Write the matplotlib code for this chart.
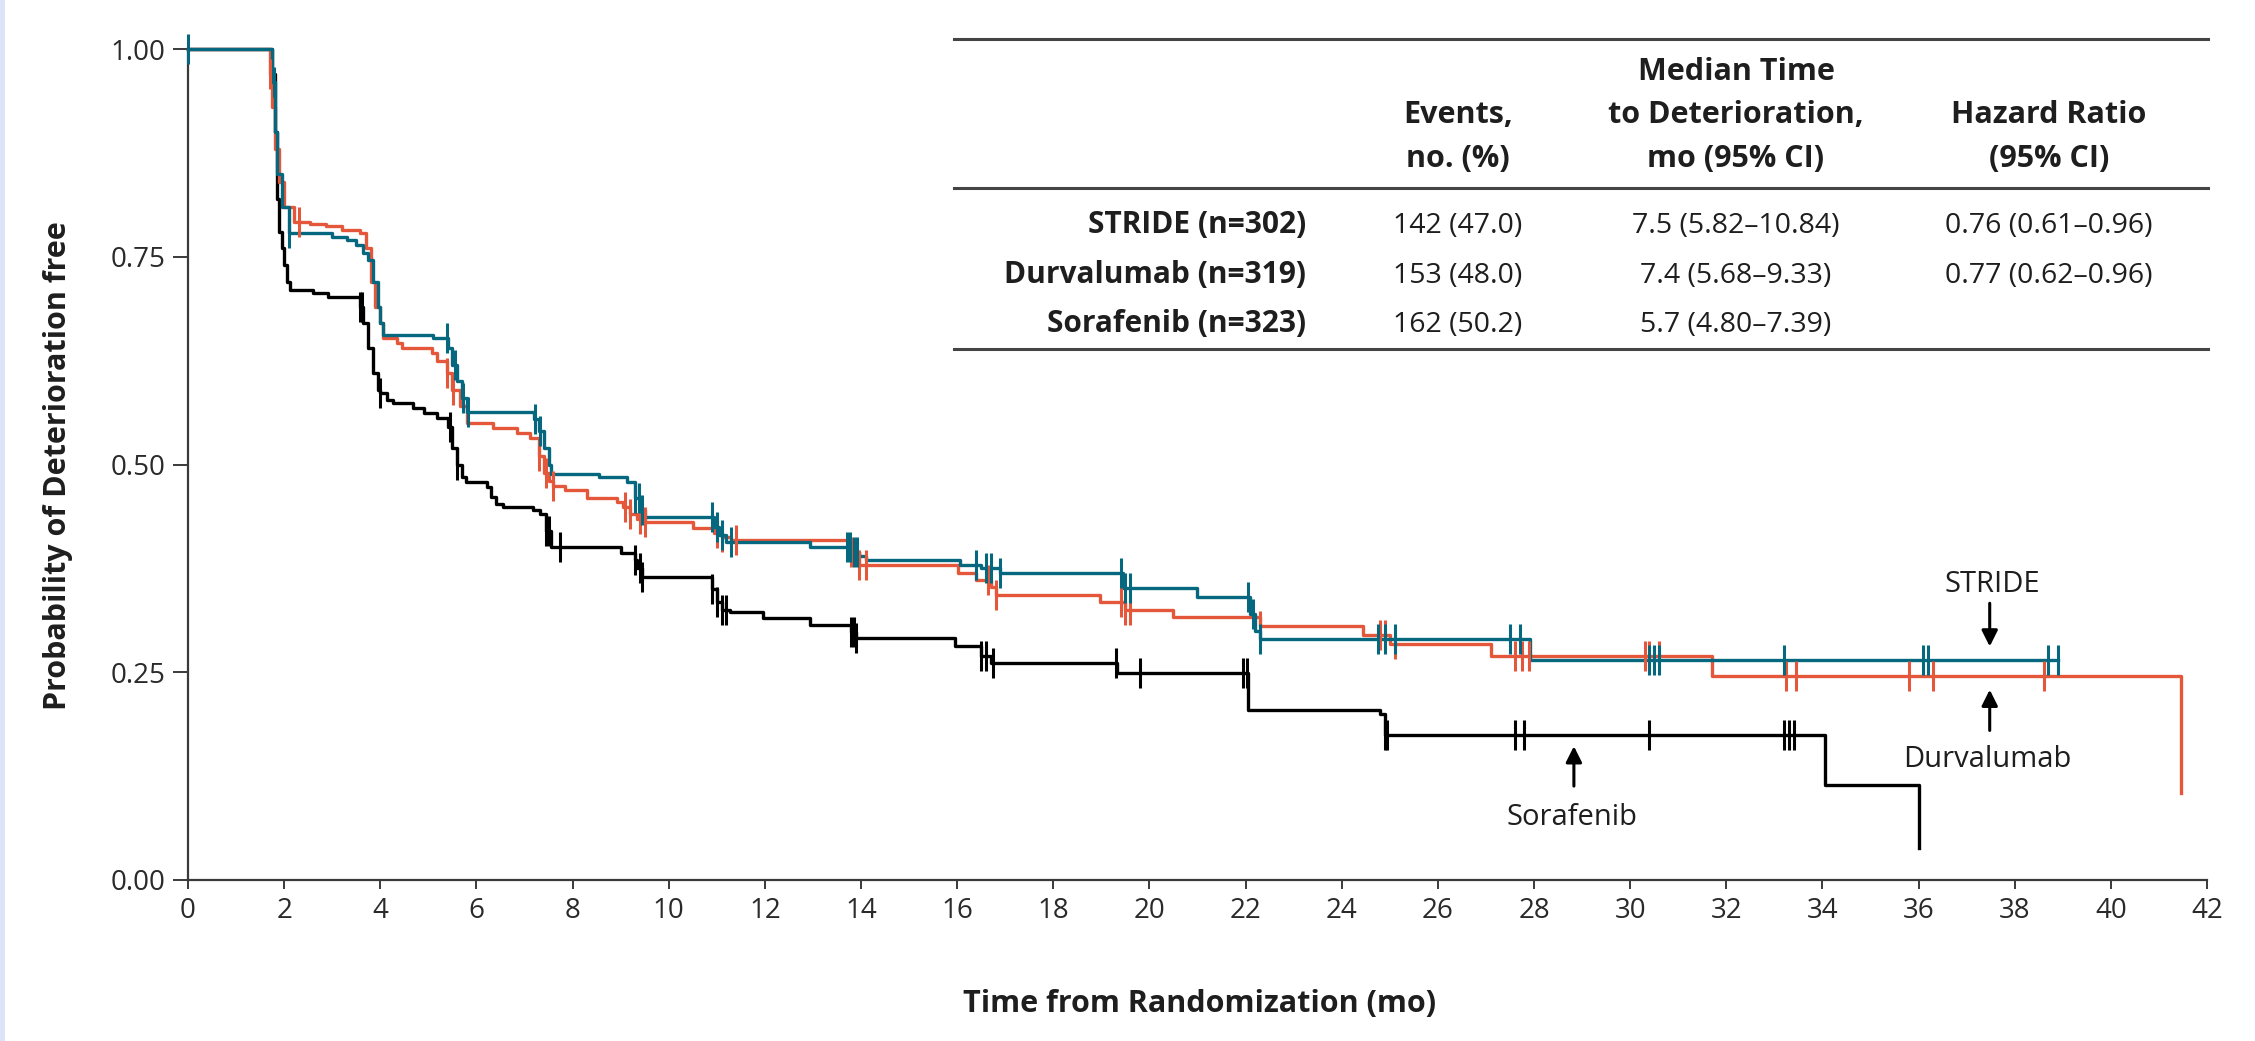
import numpy as np
import matplotlib
matplotlib.use("Agg")
import matplotlib.pyplot as plt
from matplotlib.patches import Rectangle

plt.rcParams['font.family'] = ['Open Sans', 'DejaVu Sans']

# ---------------- data ----------------
t_stride = [0, 1.75, 1.80, 1.85, 1.95, 2.10, 3.00, 3.30, 3.50, 3.65, 3.75, 3.85, 3.95, 4.00, 4.05,
            5.10, 5.40, 5.50, 5.60, 5.70, 5.80, 7.20, 7.30, 7.40, 7.50, 7.55, 8.54, 9.13, 9.30, 9.40,
            9.50, 10.95, 11.05, 11.20, 12.94, 13.80, 13.95, 14.10, 16.06, 16.50, 16.90, 19.45, 20.98,
            22.10, 22.20, 22.30, 27.92, 38.90]
s_stride = [1.0, 0.96, 0.90, 0.85, 0.81, 0.778, 0.774, 0.770, 0.764, 0.754, 0.746, 0.72, 0.69, 0.67, 0.656,
            0.652, 0.64, 0.62, 0.60, 0.58, 0.563, 0.555, 0.54, 0.52, 0.50, 0.489, 0.485, 0.479, 0.46, 0.445,
            0.437, 0.425, 0.415, 0.407, 0.401, 0.395, 0.390, 0.385, 0.379, 0.375, 0.369, 0.351, 0.341,
            0.32, 0.30, 0.290, 0.265, 0.265]

t_durva = [0, 1.70, 1.75, 1.80, 1.90, 2.00, 2.20, 2.54, 2.88, 3.20, 3.58, 3.70, 3.80, 3.90, 4.00, 4.06,
           4.34, 4.45, 5.07, 5.17, 5.38, 5.50, 5.65, 5.80, 6.35, 6.84, 7.12, 7.30, 7.40, 7.50, 7.60,
           7.84, 8.29, 8.92, 9.05, 9.20, 9.35, 9.50, 10.51, 10.95, 11.10, 11.30, 13.75, 13.95, 16.02,
           16.40, 16.70, 16.80, 18.97, 19.50, 20.50, 22.30, 24.45, 25.00, 27.10, 31.70, 41.46]
s_durva = [1.0, 0.97, 0.93, 0.88, 0.84, 0.81, 0.792, 0.789, 0.787, 0.782, 0.778, 0.76, 0.72, 0.69, 0.67, 0.652,
           0.646, 0.640, 0.634, 0.624, 0.610, 0.59, 0.57, 0.550, 0.544, 0.538, 0.532, 0.51, 0.49, 0.48, 0.474,
           0.469, 0.460, 0.455, 0.449, 0.44, 0.435, 0.431, 0.423, 0.418, 0.413, 0.409, 0.395, 0.379, 0.370,
           0.361, 0.352, 0.343, 0.334, 0.325, 0.316, 0.306, 0.295, 0.284, 0.269, 0.245, 0.105]

t_sora = [0, 1.75, 1.80, 1.85, 1.90, 1.95, 2.00, 2.05, 2.12, 2.61, 2.92, 3.58, 3.65, 3.75, 3.85, 3.95,
          4.00, 4.13, 4.27, 4.69, 4.90, 5.17, 5.41, 5.50, 5.60, 5.70, 5.78, 6.22, 6.30, 6.40, 6.55,
          7.17, 7.33, 7.45, 7.55, 9.00, 9.30, 9.35, 9.45, 10.90, 11.00, 11.10, 11.28, 11.97, 12.94,
          13.80, 13.90, 15.96, 16.50, 16.70, 19.32, 22.05, 24.80, 24.90, 34.05, 36.00]
s_sora = [1.0, 0.97, 0.90, 0.82, 0.78, 0.76, 0.74, 0.72, 0.710, 0.706, 0.702, 0.69, 0.67, 0.64, 0.61, 0.59,
          0.586, 0.578, 0.574, 0.568, 0.562, 0.556, 0.545, 0.52, 0.50, 0.485, 0.479, 0.473, 0.461, 0.453, 0.449,
          0.445, 0.441, 0.42, 0.401, 0.393, 0.385, 0.375, 0.365, 0.35, 0.335, 0.325, 0.323, 0.315, 0.307,
          0.298, 0.291, 0.281, 0.27, 0.261, 0.249, 0.205, 0.20, 0.175, 0.114, 0.038]

c_stride = [0.0, 1.78, 2.1, 5.38, 5.55, 5.73, 5.83, 7.22, 7.32, 9.3, 9.38, 9.45, 10.9, 11.0, 11.1, 11.3,
            13.7, 13.78, 13.85, 13.92, 16.4, 16.6, 16.7, 16.9, 19.4, 19.5, 19.6, 22.06, 22.15, 22.3,
            24.75, 24.9, 25.1, 27.5, 27.7, 30.4, 30.5, 30.6, 33.2, 36.1, 36.2, 38.7, 38.9]
c_durva = [1.7, 2.3, 5.38, 5.52, 7.3, 7.45, 7.6, 9.1, 9.2, 9.4, 9.5, 11.0, 11.1, 11.4, 13.8, 13.95, 14.1,
           16.65, 16.8, 19.4, 19.5, 19.6, 22.3, 24.8, 24.9, 25.1, 27.6, 27.75, 27.9, 30.3, 30.4, 30.6,
           33.25, 33.45, 35.8, 36.3, 38.6]
c_sora = [3.58, 3.62, 4.0, 5.45, 5.6, 7.45, 7.5, 7.74, 9.3, 9.4, 9.45, 10.9, 11.0, 11.1, 11.2, 13.8,
          13.85, 13.9, 16.5, 16.6, 16.75, 19.3, 19.8, 21.95, 22.02, 24.9, 24.95, 27.6, 27.8, 30.4,
          33.2, 33.3, 33.4]

x_ticks = list(range(0, 43, 2))
y_ticks = [0.0, 0.25, 0.50, 0.75, 1.00]
y_tick_labels = ["0.00", "0.25", "0.50", "0.75", "1.00"]

col_headers = [["Events,", "no. (%)"],
               ["Median Time", "to Deterioration,", "mo (95% CI)"],
               ["Hazard Ratio", "(95% CI)"]]
row_labels = ["STRIDE (n=302)", "Durvalumab (n=319)", "Sorafenib (n=323)"]
events = ["142 (47.0)", "153 (48.0)", "162 (50.2)"]
medians = ["7.5 (5.82\u201310.84)", "7.4 (5.68\u20139.33)", "5.7 (4.80\u20137.39)"]
hazards = ["0.76 (0.61\u20130.96)", "0.77 (0.62\u20130.96)", ""]

C_TEAL = "#05687f"
C_ORANGE = "#e5573b"
C_BLACK = "#000000"
TXT = "#1e1e1e"

# ---------------- figure ----------------
W, H = 2255, 1041
fig = plt.figure(figsize=(W / 100, H / 100), dpi=100)
fig.patch.set_facecolor("white")
fig.patches.append(Rectangle((0, 0), 5 / W, 1, transform=fig.transFigure,
                             facecolor="#dbe4f8", edgecolor="none"))

ax_l, ax_r, ax_top, ax_bot = 188, 2207, 49, 880
ax = fig.add_axes([ax_l / W, 1 - ax_bot / H, (ax_r - ax_l) / W, (ax_bot - ax_top) / H])
ax.set_xlim(0, 42)
ax.set_ylim(0, 1.0)


def censor_y(t, s, c):
    t = np.asarray(t)
    s = np.asarray(s)
    idx = np.searchsorted(t, np.asarray(c), side="right") - 1
    return s[idx]


for t, s, c, col in [(t_sora, s_sora, c_sora, C_BLACK),
                     (t_durva, s_durva, c_durva, C_ORANGE),
                     (t_stride, s_stride, c_stride, C_TEAL)]:
    ax.step(t, s, where="post", color=col, lw=2.4, clip_on=False, zorder=3)
    ax.plot(c, censor_y(t, s, c), linestyle="none", marker="|", markersize=21,
            markeredgewidth=2.2, color=col, clip_on=False, zorder=4)

for sp in ["top", "right"]:
    ax.spines[sp].set_visible(False)
for sp in ["left", "bottom"]:
    ax.spines[sp].set_color("#3a3a3a")
    ax.spines[sp].set_linewidth(1.6)

ax.set_xticks(x_ticks)
ax.set_xticklabels([str(v) for v in x_ticks])
ax.set_yticks(y_ticks)
ax.set_yticklabels(y_tick_labels)
ax.tick_params(axis="x", direction="out", length=6.5, width=1.4, color="#3a3a3a",
               labelsize=20, labelcolor="#2a2a2a", pad=6)
ax.tick_params(axis="y", direction="out", length=11, width=1.4, color="#3a3a3a",
               labelsize=20, labelcolor="#2a2a2a", pad=5)

fig.text(1200 / W, 1 - 1012 / H, "Time from Randomization (mo)", ha="center", va="baseline",
         fontsize=22, fontweight="bold", color=TXT)
fig.text(58 / W, 1 - 466 / H, "Probability of Deterioration free", ha="center", va="center",
         rotation=90, fontsize=22, fontweight="bold", color=TXT)

# curve labels with arrows
ax.text(37.53, 0.3466, "STRIDE", ha="center", va="baseline", fontsize=21, color=TXT)
ax.annotate("", xy=(37.48, 0.281), xytext=(37.48, 0.333),
            arrowprops=dict(arrowstyle="-|>", color="black", lw=2.2, mutation_scale=24,
                            shrinkA=0, shrinkB=0))
ax.text(37.42, 0.136, "Durvalumab", ha="center", va="baseline", fontsize=21, color=TXT)
ax.annotate("", xy=(37.48, 0.229), xytext=(37.48, 0.180),
            arrowprops=dict(arrowstyle="-|>", color="black", lw=2.2, mutation_scale=24,
                            shrinkA=0, shrinkB=0))
ax.text(28.79, 0.066, "Sorafenib", ha="center", va="baseline", fontsize=21, color=TXT)
ax.annotate("", xy=(28.83, 0.161), xytext=(28.83, 0.113),
            arrowprops=dict(arrowstyle="-|>", color="black", lw=2.2, mutation_scale=24,
                            shrinkA=0, shrinkB=0))


# ---------------- table ----------------
def fx(px):
    return px / W


def fy(py):
    return 1 - py / H


tbl_l, tbl_r = 954, 2208
for yy in [39, 188, 349]:
    fig.add_artist(plt.Line2D([fx(tbl_l), fx(tbl_r)], [fy(yy), fy(yy)],
                              transform=fig.transFigure, color="#444444", lw=2.2))

col_x = [1458, 1736, 2049]
header_baselines = {2: [123, 167], 3: [80, 123, 167]}
for cx, lines in zip(col_x, col_headers):
    bls = header_baselines[len(lines)]
    for txt, bl in zip(lines, bls):
        fig.text(fx(cx), fy(bl), txt, ha="center", va="baseline", fontsize=22,
                 fontweight="bold", color=TXT)

row_bl = [233, 283, 332]
for i in range(3):
    fig.text(fx(1306), fy(row_bl[i]), row_labels[i], ha="right", va="baseline",
             fontsize=21.5, fontweight="bold", color=TXT)
    for cx, vals in zip(col_x, [events, medians, hazards]):
        fig.text(fx(cx), fy(row_bl[i]), vals[i], ha="center", va="baseline",
                 fontsize=20.5, color=TXT)

fig.savefig("out.png", dpi=100, facecolor="white")
